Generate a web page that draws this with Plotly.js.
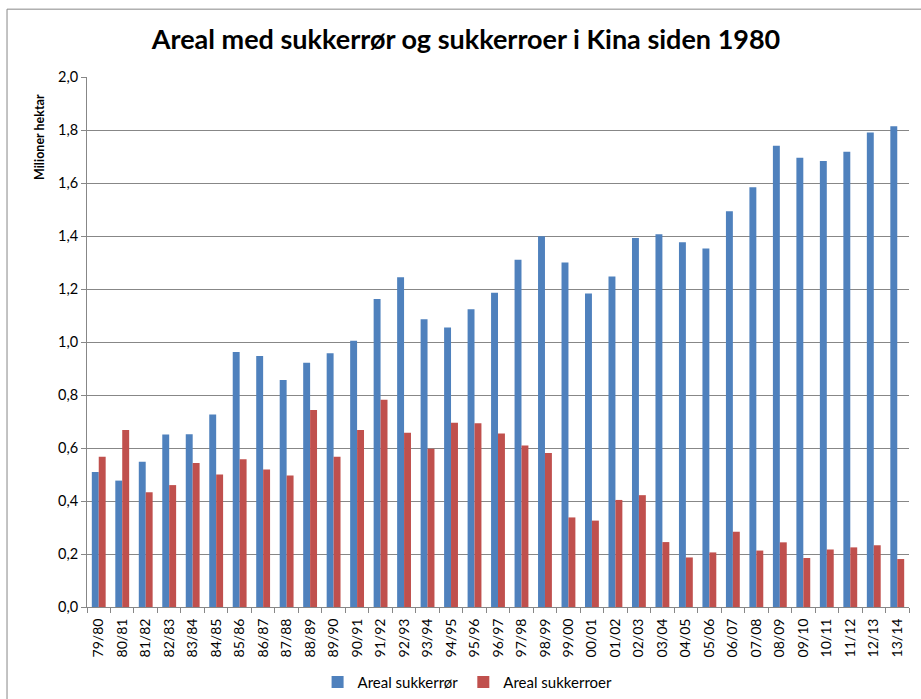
<!DOCTYPE html>
<html>
<head>
<meta charset="utf-8">
<script src="https://cdn.plot.ly/plotly-3.0.1.min.js"></script>
<style>html,body{margin:0;padding:0;background:#fff;}#chart{width:921px;height:699px;}</style>
</head>
<body>
<div id="chart"></div>
<script>
const seasons = ["79/80","80/81","81/82","82/83","83/84","84/85","85/86","86/87","87/88","88/89",
  "89/90","90/91","91/92","92/93","93/94","94/95","95/96","96/97","97/98","98/99",
  "99/00","00/01","01/02","02/03","03/04","04/05","05/06","06/07","07/08","08/09",
  "09/10","10/11","11/12","12/13","13/14"];
const sukkerror = [0.509,0.477,0.548,0.651,0.652,0.726,0.962,0.947,0.857,0.922,
  0.958,1.005,1.162,1.244,1.086,1.055,1.124,1.186,1.310,1.399,
  1.300,1.183,1.247,1.392,1.407,1.376,1.353,1.493,1.584,1.741,
  1.695,1.683,1.718,1.791,1.814];
const sukkerroer = [0.567,0.668,0.433,0.460,0.543,0.500,0.558,0.519,0.496,0.743,
  0.567,0.668,0.782,0.658,0.597,0.695,0.693,0.655,0.609,0.581,
  0.338,0.326,0.404,0.422,0.245,0.187,0.206,0.284,0.213,0.244,
  0.185,0.217,0.225,0.233,0.181];
const seriesNames = ["Areal sukkerrør","Areal sukkerroer"];

const font = "Lato, 'Open Sans', 'DejaVu Sans', sans-serif";
const data = [
  {type:"bar", x:seasons, y:sukkerror, name:seriesNames[0], marker:{color:"#4F81BD"}},
  {type:"bar", x:seasons, y:sukkerroer, name:seriesNames[1], marker:{color:"#C0504D"}}
];
const layout = {
  width:921, height:699,
  paper_bgcolor:"#fff", plot_bgcolor:"#fff",
  separators:", ",
  font:{family:font, size:13, color:"#000"},
  margin:{l:87, r:12, t:77, b:92, pad:0},
  title:{text:"<b>Areal med sukkerrør og sukkerroer i Kina siden 1980</b>", x:0.506, xanchor:"center", y:0.943, yanchor:"middle", font:{family:font, size:27, color:"#000"}},
  barmode:"group", bargap:0.41, bargroupgap:0,
  xaxis:{type:"category", automargin:false, tickangle:-90, tickson:"boundaries", ticks:"outside", ticklen:5, tickcolor:"#878787",
    ticklabelstandoff:5,
    showline:true, linecolor:"#878787", linewidth:1, showgrid:false, tickfont:{family:font, size:14}},
  yaxis:{range:[0,2.0], automargin:false, dtick:0.2, tickformat:".1f", ticks:"outside", ticklen:5, tickcolor:"#878787",
    showline:true, linecolor:"#878787", linewidth:1, showgrid:true, gridcolor:"#878787", gridwidth:1, zeroline:false,
    tickfont:{family:font, size:14.5}},
  annotations:[{text:"<b>Milioner hektar</b>", xref:"paper", yref:"paper", x:-0.057, y:0.887, xanchor:"center", yanchor:"middle",
    textangle:-90, showarrow:false, font:{family:font, size:12.5, color:"#000"}}],
  legend:{orientation:"h", x:0.463, xanchor:"center", yref:"container", y:0.024, yanchor:"middle", font:{family:font, size:15}, itemwidth:30, traceorder:"normal"},
  shapes:[{type:"rect", xref:"paper", yref:"paper", x0:-0.0973, x1:1.03, y0:-0.25, y1:1.128, line:{color:"#878787", width:1}}],
  showlegend:true
};
Plotly.newPlot("chart", data, layout, {displayModeBar:false, staticPlot:true});
</script>
</body>
</html>
